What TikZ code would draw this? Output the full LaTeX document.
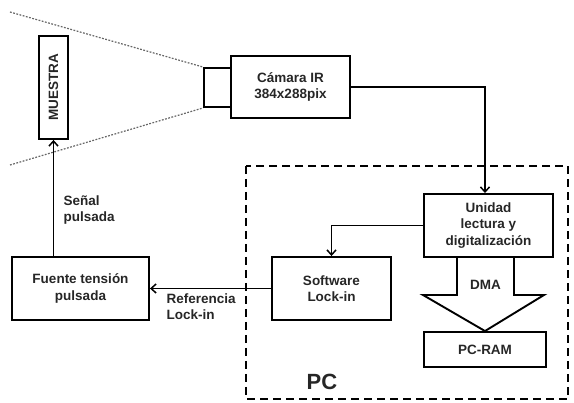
\documentclass[tikz,border=0pt]{standalone}
\usepackage{fontspec}
\setmainfont{Liberation Sans}
\usetikzlibrary{arrows.meta,calc}
\begin{document}
\begin{tikzpicture}[x=1pt,y=-1pt,
  txt/.style={font=\fontsize{13.5}{16.5}\selectfont\bfseries, text=black!85},
  box/.style={draw, line width=1.9pt, txt, align=center, inner sep=0pt},
  conn/.style={line width=1.7pt},
  arr/.style={conn, -{Straight Barb[length=5pt,width=9pt,line width=1.5pt]}},
  dots/.style={draw=black!60, line width=1.2pt, dash pattern=on 1.8pt off 1.5pt},
  pcbox/.style={line width=2.3pt, dash pattern=on 8pt off 5pt}]
\useasboundingbox (0,0) rectangle (574,403);
% nodes
\node[box, minimum width=29pt, minimum height=103pt] (muestra) at (53.5,87.5) {};
\node[txt, rotate=90] (mtxt) at (muestra.center) {MUESTRA};
\node[box, minimum width=27pt, minimum height=39pt] (lens) at (217.5,87.5) {};
\node[box, minimum width=119pt, minimum height=62pt] (cam) at (290.5,87) {Cámara IR\\384x288pix};
\node[box, minimum width=129pt, minimum height=63pt] (uni) at (488.5,225.5) {Unidad\\lectura y\\digitalización};
\node[box, minimum width=119pt, minimum height=63pt] (soft) at (331.5,288.5) {Software\\Lock-in};
\node[box, minimum width=122pt, minimum height=35pt] (ram) at (485,349.5) {PC-RAM};
\node[box, minimum width=137pt, minimum height=63pt] (fuente) at (80.5,288.5) {Fuente tensión\\pulsada};
\node[txt, align=left, anchor=north west] (senal) at (60,192) {Señal\\pulsada};
\node[txt, align=left, anchor=north west] (ref) at (163,290) {Referencia\\Lock-in};
\node[txt] (dma) at (485.5,285) {DMA};
\node[font=\fontsize{22}{24}\selectfont\bfseries, text=black!85] (pc) at (322,382) {PC};
% PC dashed frame
\draw[pcbox] (246,166) rectangle (568,399);
% dotted view lines
\coordinate (vt) at (10,12);
\coordinate (vb) at (10,165);
\draw[dots] (vt) -- (lens.north west);
\draw[dots] (vb) -- (lens.south west);
% connectors
\draw[arr] (cam.east) -| ($(uni.north)+(-3.5,0)$);
\draw[arr] (uni.west) -| (soft.north);
\draw[arr] (soft.west) -- (fuente.east);
\draw[arr] (muestra.south |- fuente.north) -- (muestra.south);
% DMA block arrow
\draw[line width=1.9pt, line join=miter]
  (457,257) -- (457,295) -- (423,295) -- (ram.north) -- (544,295) -- (514,295) -- (514,257);
\end{tikzpicture}
\end{document}
